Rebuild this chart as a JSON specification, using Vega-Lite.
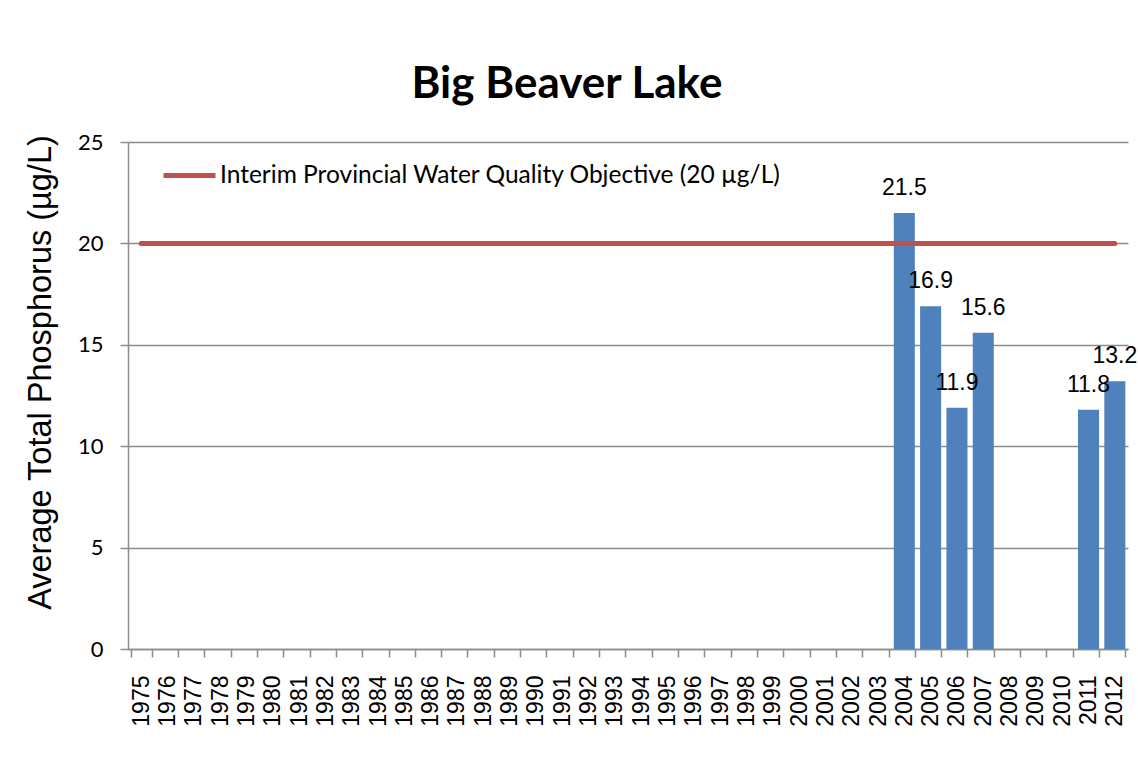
{
  "$schema": "https://vega.github.io/schema/vega-lite/v6.json",
  "autosize": "none",
  "width": 1000,
  "height": 507,
  "padding": {"left": 128, "top": 142, "right": 10, "bottom": 118},
  "background": "white",
  "title": {
    "text": "Big Beaver Lake",
    "font": "Lato",
    "fontSize": 44,
    "fontWeight": "bold",
    "color": "black",
    "anchor": "middle",
    "dx": -61,
    "offset": 24
  },
  "data": {
    "values": [
      {"year": "1975", "tp": null, "objective": 20},
      {"year": "1976", "tp": null, "objective": 20},
      {"year": "1977", "tp": null, "objective": 20},
      {"year": "1978", "tp": null, "objective": 20},
      {"year": "1979", "tp": null, "objective": 20},
      {"year": "1980", "tp": null, "objective": 20},
      {"year": "1981", "tp": null, "objective": 20},
      {"year": "1982", "tp": null, "objective": 20},
      {"year": "1983", "tp": null, "objective": 20},
      {"year": "1984", "tp": null, "objective": 20},
      {"year": "1985", "tp": null, "objective": 20},
      {"year": "1986", "tp": null, "objective": 20},
      {"year": "1987", "tp": null, "objective": 20},
      {"year": "1988", "tp": null, "objective": 20},
      {"year": "1989", "tp": null, "objective": 20},
      {"year": "1990", "tp": null, "objective": 20},
      {"year": "1991", "tp": null, "objective": 20},
      {"year": "1992", "tp": null, "objective": 20},
      {"year": "1993", "tp": null, "objective": 20},
      {"year": "1994", "tp": null, "objective": 20},
      {"year": "1995", "tp": null, "objective": 20},
      {"year": "1996", "tp": null, "objective": 20},
      {"year": "1997", "tp": null, "objective": 20},
      {"year": "1998", "tp": null, "objective": 20},
      {"year": "1999", "tp": null, "objective": 20},
      {"year": "2000", "tp": null, "objective": 20},
      {"year": "2001", "tp": null, "objective": 20},
      {"year": "2002", "tp": null, "objective": 20},
      {"year": "2003", "tp": null, "objective": 20},
      {"year": "2004", "tp": 21.5, "objective": 20},
      {"year": "2005", "tp": 16.9, "objective": 20},
      {"year": "2006", "tp": 11.9, "objective": 20},
      {"year": "2007", "tp": 15.6, "objective": 20},
      {"year": "2008", "tp": null, "objective": 20},
      {"year": "2009", "tp": null, "objective": 20},
      {"year": "2010", "tp": null, "objective": 20},
      {"year": "2011", "tp": 11.8, "objective": 20},
      {"year": "2012", "tp": 13.2, "objective": 20}
    ]
  },
  "encoding": {
    "x": {
      "field": "year",
      "type": "ordinal",
      "sort": null,
      "scale": {
        "domain": ["1975","1976","1977","1978","1979","1980","1981","1982","1983","1984","1985","1986","1987","1988","1989","1990","1991","1992","1993","1994","1995","1996","1997","1998","1999","2000","2001","2002","2003","2004","2005","2006","2007","2008","2009","2010","2011","2012"],
        "paddingInner": 0.2,
        "paddingOuter": 0.1
      },
      "axis": {
        "title": null,
        "labelAngle": -90,
        "labelAlign": "right",
        "labelBaseline": "middle",
        "labelFont": "Liberation Sans",
        "labelFontSize": 23,
        "labelColor": "black",
        "labelPadding": 18,
        "tickBand": "extent",
        "tickSize": 8,
        "tickColor": "#8c8c8c",
        "tickWidth": 1.5,
        "domainColor": "#8c8c8c",
        "domainWidth": 1.5,
        "grid": false
      }
    }
  },
  "layer": [
    {
      "mark": {"type": "bar", "color": "#4F81BD"},
      "encoding": {
        "y": {
          "field": "tp",
          "type": "quantitative",
          "scale": {"domain": [0, 25], "nice": false},
          "axis": {
            "title": "Average Total Phosphorus (µg/L)",
            "titleFont": "Liberation Sans",
            "titleFontSize": 32.5,
            "titleFontWeight": "normal",
            "titleColor": "black",
            "titlePadding": 20,
            "titleY": 230,
            "values": [0, 5, 10, 15, 20, 25],
            "labelFont": "Lato",
            "labelFontSize": 22,
            "labelColor": "black",
            "labelPadding": 17,
            "tickSize": 8,
            "tickColor": "#8c8c8c",
            "tickWidth": 1.5,
            "domainColor": "#8c8c8c",
            "domainWidth": 1.5,
            "grid": true,
            "gridColor": "#8c8c8c",
            "gridWidth": 1.5
          }
        }
      }
    },
    {
      "mark": {"type": "text", "font": "Liberation Sans", "fontSize": 23, "color": "black", "baseline": "middle", "dy": -25},
      "encoding": {
        "y": {"field": "tp", "type": "quantitative", "scale": {"domain": [0, 25], "nice": false}},
        "text": {"field": "tp", "type": "quantitative", "format": ".1f"}
      }
    },
    {
      "mark": {"type": "line", "strokeWidth": 5, "strokeCap": "round"},
      "encoding": {
        "y": {"field": "objective", "type": "quantitative", "scale": {"domain": [0, 25], "nice": false}},
        "color": {
          "datum": "Interim Provincial Water Quality Objective (20 µg/L)",
          "type": "nominal",
          "scale": {"range": ["#C0504D"]},
          "legend": {
            "title": null,
            "orient": "none",
            "legendX": 33,
            "legendY": 5,
            "padding": 0,
            "symbolType": "stroke",
            "symbolSize": 2704,
            "symbolStrokeWidth": 5,
            "labelFont": "Lato",
            "labelFontSize": 24.5,
            "labelColor": "black",
            "labelOffset": 2,
            "labelLimit": 800
          }
        }
      }
    }
  ],
  "config": {
    "view": {"stroke": null}
  }
}
